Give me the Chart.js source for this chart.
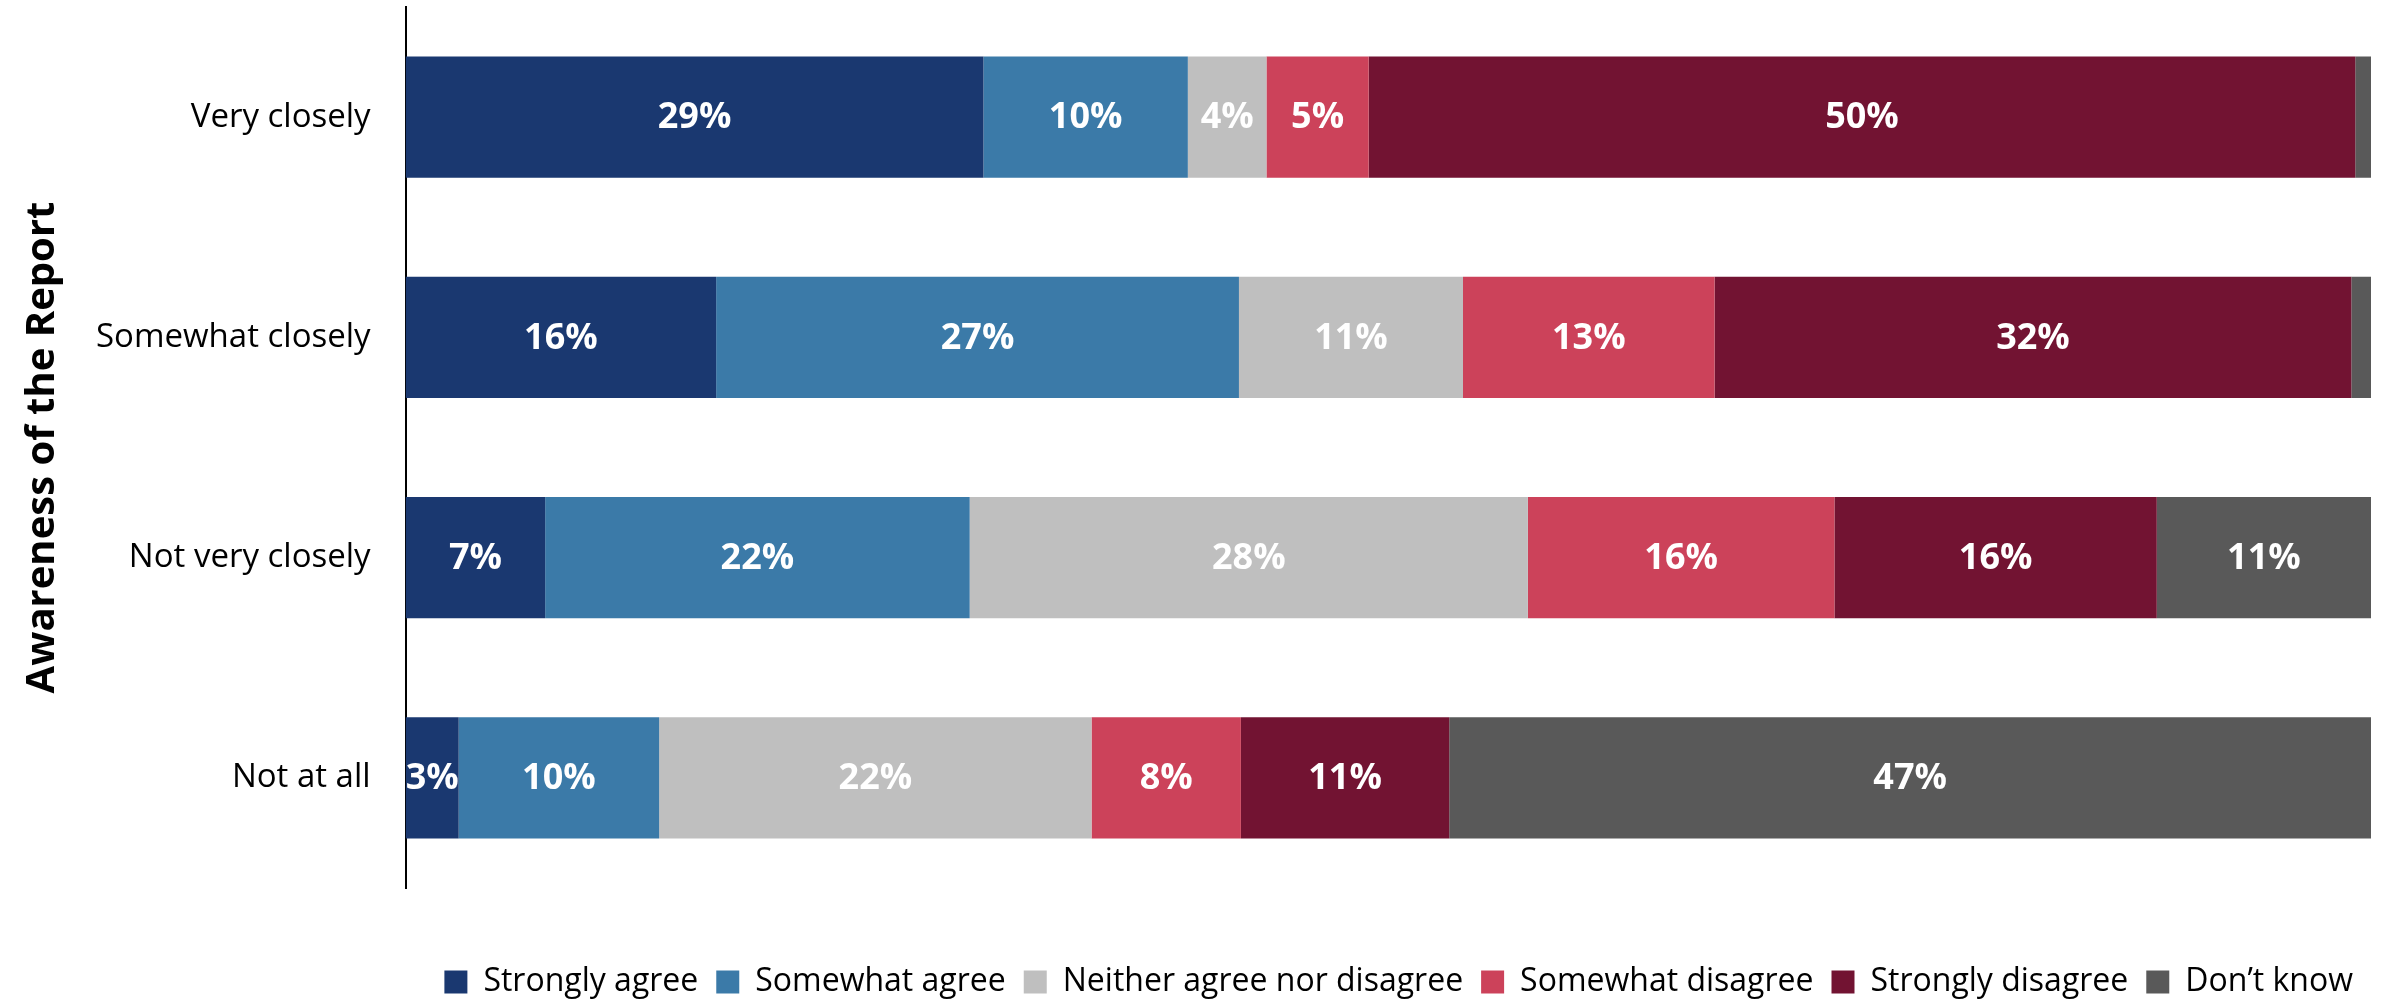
<!DOCTYPE html>
<html>
<head>
<meta charset="utf-8">
<script src="https://cdn.jsdelivr.net/npm/chart.js@4.4.1/dist/chart.umd.min.js"></script>
<style>
  html, body { margin: 0; padding: 0; background: #fff; }
  #wrap { width: 2386px; height: 999px; }
</style>
</head>
<body>
<div id="wrap"><canvas id="barChart"></canvas></div>
<script>
// categories (rows) and answer groups
const categories = ['Very closely', 'Somewhat closely', 'Not very closely', 'Not at all'];
const seriesNames = ['Strongly agree', 'Somewhat agree', 'Neither agree nor disagree', 'Somewhat disagree', 'Strongly disagree', 'Don\u2019t know'];
const seriesColors = ['#1a3870', '#3b7aa8', '#bfbfbf', '#cc425a', '#721332', '#595959'];

// values in %, one array per answer, in row order
const stronglyAgree = [29.4, 15.8, 7.1, 2.7];
const somewhatAgree = [10.4, 26.6, 21.6, 10.2];
const neither = [4.0, 11.4, 28.4, 22.0];
const somewhatDisagree = [5.2, 12.8, 15.6, 7.6];
const stronglyDisagree = [50.2, 32.4, 16.4, 10.6];
const dontKnow = [0.8, 1.0, 10.9, 46.9];

const seriesValues = [stronglyAgree, somewhatAgree, neither, somewhatDisagree, stronglyDisagree, dontKnow];

const FONT = "'Open Sans', 'DejaVu Sans', sans-serif";

// draw the white % labels inside each segment
const segmentLabels = {
    id: 'segmentLabels',
    afterDatasetsDraw(chart) {
        const ctx = chart.ctx;
        ctx.save();
        ctx.fillStyle = '#ffffff';
        ctx.font = 'bold 36px ' + FONT;
        ctx.textAlign = 'center';
        ctx.textBaseline = 'middle';
        chart.data.datasets.forEach((ds, i) => {
            const meta = chart.getDatasetMeta(i);
            meta.data.forEach((bar, j) => {
                const v = ds.data[j];
                if (v < 2) return;
                const cx = (bar.x + bar.base) / 2;
                ctx.fillText(Math.round(v) + '%', cx, bar.y + 1);
            });
        });
        ctx.restore();
    }
};

const barData = {
    labels: categories,
    datasets: seriesNames.map((name, i) => ({
        label: name,
        data: seriesValues[i],
        backgroundColor: seriesColors[i],
        borderWidth: 0,
        barPercentage: 0.55,
        categoryPercentage: 1
    }))
};

const barOptions = {
    indexAxis: 'y',
    responsive: true,
    maintainAspectRatio: false,
    animation: false,
    layout: {
        padding: { top: 7, right: 15, left: 10, bottom: -9 }
    },
    plugins: {
        legend: {
            position: 'bottom',
            align: 'end',
            title: {
                display: true,
                text: '',
                font: { size: 10 },
                padding: { top: 48, bottom: 0 }
            },
            labels: {
                boxWidth: 23,
                boxHeight: 23,
                padding: 18,
                color: '#000',
                font: { family: FONT, size: 32 }
            }
        },
        tooltip: { enabled: false },
        title: { display: false }
    },
    scales: {
        x: {
            stacked: true,
            min: 0,
            max: 100,
            display: false
        },
        y: {
            stacked: true,
            grid: { display: false, drawTicks: false },
            border: { display: true, color: '#000', width: 2 },
            ticks: {
                color: '#000',
                padding: 35,
                font: { family: FONT, size: 33 }
            },
            title: {
                display: true,
                text: 'Awareness of the Report',
                color: '#000',
                padding: { top: 9, bottom: -6 },
                font: { family: FONT, size: 40, weight: 'bold' }
            },
            // no extra room above/below for the first and last tick label
            afterFit(scale) {
                scale.paddingTop = 0;
                scale.paddingBottom = 0;
            }
        }
    }
};

const barCtx = document.getElementById('barChart').getContext('2d');
const myBarChart = new Chart(barCtx, {
    type: 'bar',
    data: barData,
    options: barOptions,
    plugins: [segmentLabels]
});
</script>
</body>
</html>
